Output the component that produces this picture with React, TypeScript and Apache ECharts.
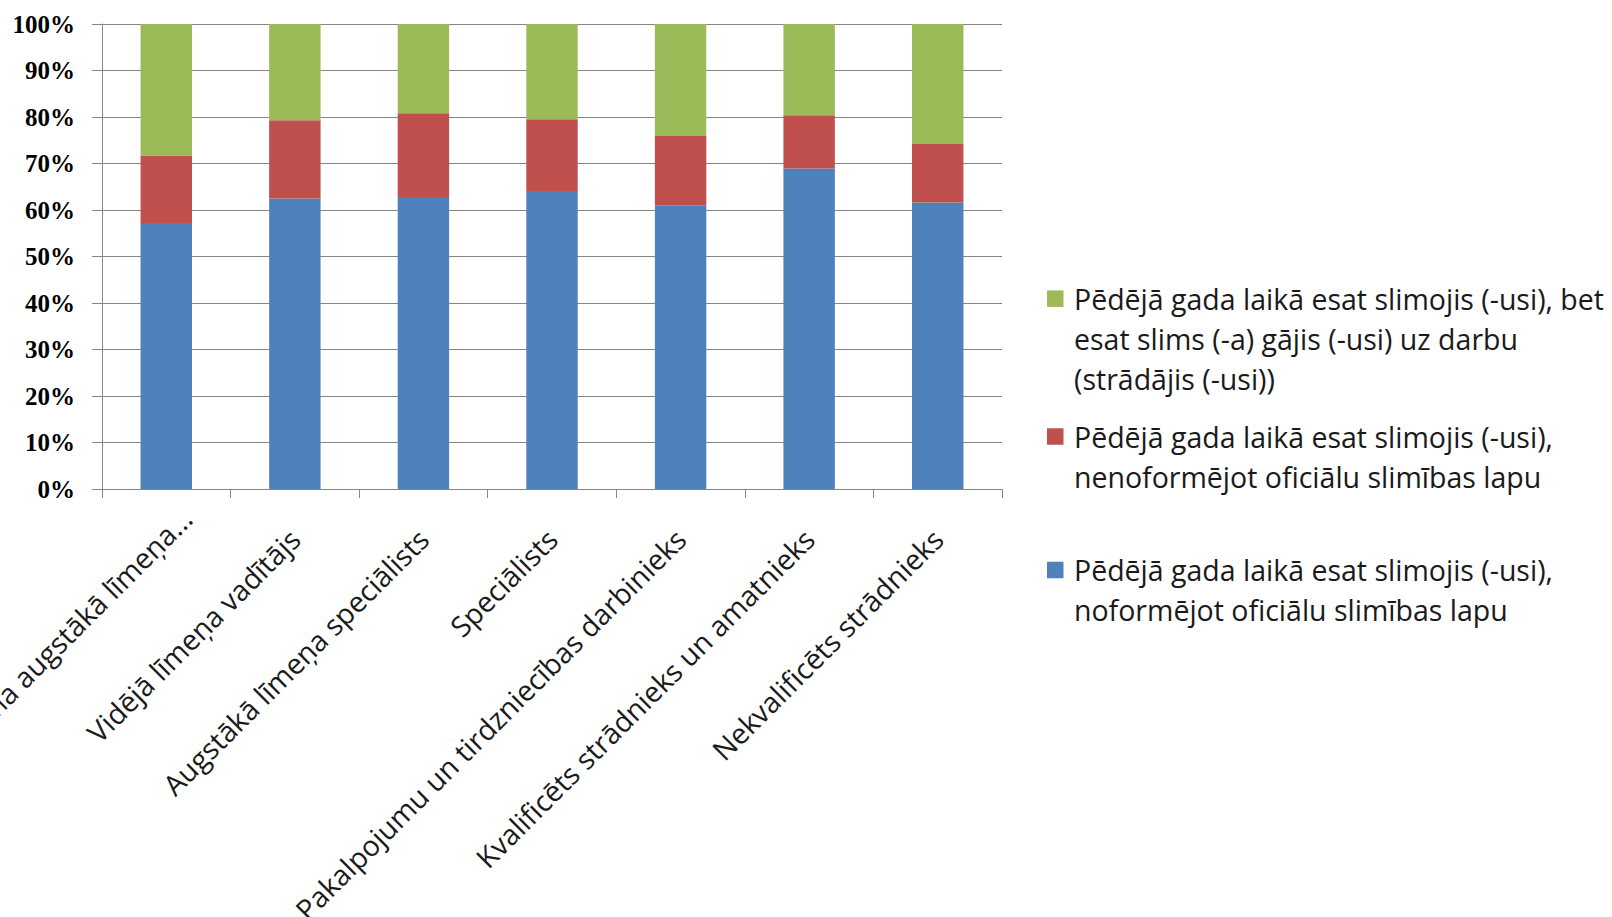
import React, { useEffect, useRef } from "react";
import * as echarts from "echarts";

const categories = [
  "Uzņēmuma augstākā līmeņa...",
  "Vidējā līmeņa vadītājs",
  "Augstākā līmeņa speciālists",
  "Speciālists",
  "Pakalpojumu un tirdzniecības darbinieks",
  "Kvalificēts strādnieks un amatnieks",
  "Nekvalificēts strādnieks",
];

const seriesNames = [
  "Pēdējā gada laikā esat slimojis (-usi), noformējot oficiālu slimības lapu",
  "Pēdējā gada laikā esat slimojis (-usi), nenoformējot oficiālu slimības lapu",
  "Pēdējā gada laikā esat slimojis (-usi), bet esat slims (-a) gājis (-usi) uz darbu (strādājis (-usi))",
];

const legendLines: string[][] = [
  ["Pēdējā gada laikā esat slimojis (-usi),", "noformējot oficiālu slimības lapu"],
  ["Pēdējā gada laikā esat slimojis (-usi),", "nenoformējot oficiālu slimības lapu"],
  ["Pēdējā gada laikā esat slimojis (-usi), bet", "esat slims (-a) gājis (-usi) uz darbu", "(strādājis (-usi))"],
];

const officialSheet = [57.2, 62.5, 62.8, 64.1, 61.0, 68.9, 61.6];
const noSheet = [14.5, 16.8, 18.0, 15.4, 14.9, 11.5, 12.6];
const wentToWork = [28.3, 20.7, 19.2, 20.5, 24.1, 19.6, 25.8];

const colors = ["#4F81BD", "#C0504D", "#9BBB59"];

const FONT = "Open Sans";
const FS = 28.5;
const LH = 40;

export default function App() {
  const ref = useRef<HTMLDivElement>(null);
  useEffect(() => {
    if (!ref.current) return;
    const chart = echarts.init(ref.current, undefined, { renderer: "svg" });
    const values = [officialSheet, noSheet, wentToWork];
    const iconCenters = [570, 436.5, 298.7];
    const legends = [2, 1, 0].map((i) => {
      const n = legendLines[i].length;
      const h = n * LH;
      const sq = 16.5;
      const w = 22;
      const y0 = LH / 2 - sq / 2;
      return {
        show: true,
        data: [seriesNames[i]],
        left: 1047,
        top: iconCenters[i] - LH / 2,
        orient: "vertical",
        padding: 0,
        itemWidth: w,
        itemHeight: h,
        itemGap: 0,
        icon: `path://M0 0L0 0M${w} ${h}L${w} ${h}M0 ${y0}h${sq}v${sq}H0z`,
        selectedMode: false,
        formatter: () => legendLines[i].join("\n"),
        textStyle: {
          fontFamily: FONT,
          fontSize: FS,
          color: "#1a1a1a",
          lineHeight: LH,
        },
      };
    });
    const xData = categories.map((c, i) =>
      i === 0 ? { value: c, textStyle: { padding: [14, -29, 0, 0] } } : c
    );
    chart.setOption({
      animation: false,
      backgroundColor: "#ffffff",
      color: colors,
      legend: legends,
      grid: {
        left: 102,
        top: 24,
        width: 900,
        height: 465,
        containLabel: false,
        outerBoundsMode: "none",
      },
      xAxis: {
        type: "category",
        data: xData,
        axisLine: { show: true, lineStyle: { color: "#868686", width: 1 } },
        axisTick: { show: true, length: 9, alignWithLabel: false, lineStyle: { color: "#868686" } },
        axisLabel: {
          interval: 0,
          rotate: 45,
          margin: 45,
          fontFamily: FONT,
          fontSize: FS,
          color: "#1a1a1a",
        },
      },
      yAxis: {
        type: "value",
        min: 0,
        max: 100,
        interval: 10,
        axisLine: { show: true, lineStyle: { color: "#868686", width: 1 } },
        axisTick: { show: true, length: 10, lineStyle: { color: "#868686" } },
        splitLine: { show: true, lineStyle: { color: "#868686", width: 1 } },
        axisLabel: {
          formatter: "{value}%",
          margin: 27,
          fontFamily: "Liberation Serif",
          fontWeight: "bold",
          fontSize: 25,
          color: "#000",
        },
      },
      series: values.map((v, i) => ({
        name: seriesNames[i],
        type: "bar",
        stack: "total",
        data: v,
        barWidth: "40%",
        itemStyle: { color: colors[i] },
      })),
    });
    return () => chart.dispose();
  }, []);
  return (
    <div
      ref={ref}
      style={{ position: "fixed", left: 0, top: 0, width: 1612, height: 917, background: "#fff" }}
    />
  );
}
